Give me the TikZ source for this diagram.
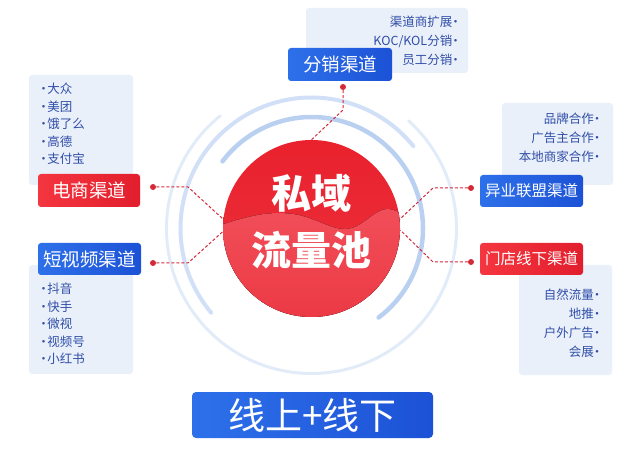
\documentclass[tikz,border=0pt]{standalone}
\usepackage{fontspec}
\setmainfont{Noto Sans CJK SC}

\definecolor{chanblue}{RGB}{46,112,234}
\definecolor{chanbluedk}{RGB}{28,82,214}
\definecolor{chanred}{RGB}{244,54,64}
\definecolor{chanreddk}{RGB}{226,30,44}
\definecolor{infofill}{RGB}{234,240,250}
\definecolor{infoink}{RGB}{48,78,168}
\definecolor{linkred}{RGB}{212,42,56}
\definecolor{ringA}{RGB}{186,208,241}
\definecolor{ringB}{RGB}{209,224,246}
\definecolor{ringC}{RGB}{226,236,249}
\definecolor{poolred}{RGB}{233,33,45}
\definecolor{poolwave}{RGB}{241,78,89}

\newcommand{\rdot}{\kern-3pt·}
\newcommand{\ldot}{·\kern-2.5pt}

\begin{document}
\begin{tikzpicture}[x=1pt, y=1pt, line width=0.5pt]
\tikzset{
  chbox/.style={rounded corners=3pt, text=white, inner sep=0pt, minimum width=103pt, minimum height=33pt, font=\fontsize{18.5}{20}\selectfont},
  chblue/.style={chbox, left color=chanblue, right color=chanbluedk},
  chred/.style={chbox, left color=chanred, right color=chanreddk},
  chlong/.style={font=\fontsize{15.5}{17}\selectfont},
  infobox/.style={fill=infofill, rounded corners=3pt, inner sep=0pt},
  infotxt/.style={text=infoink, inner sep=0pt},
  ring/.style={line cap=round},
  pool/.style={circle, inner sep=0pt, minimum size=177pt, top color=poolred, bottom color=poolred!92!white},
  pooltxt/.style={text=white, align=center, inner sep=0pt, font=\fontsize{40}{57}\selectfont\bfseries},
  mainbtn/.style={rounded corners=4pt, text=white, inner sep=0pt, minimum width=241pt, minimum height=46pt, left color=chanblue, right color=chanbluedk, font=\fontsize{37}{40}\selectfont},
  link/.style={draw=linkred, line width=1pt, dash pattern=on 3pt off 2pt},
  dot/.style={circle, fill=linkred, inner sep=0pt, minimum size=6pt}
}
\useasboundingbox (0,0) rectangle (640,461);

% rings round the pool
\coordinate (c0) at (311.5,232.5);
\draw[ring, draw=ringC, line width=3pt] (c0) ++(129:145pt) arc[start angle=129, end angle=408, radius=145pt];
\draw[ring, draw=ringB, line width=4pt] (c0) ++(39:131pt) arc[start angle=39, end angle=220, radius=131pt];
\draw[ring, draw=ringA, line width=4.5pt] (c0) ++(-53:111.5pt) arc[start angle=-53, end angle=143, radius=111.5pt];

% info boxes
\node[infobox, minimum width=162pt, minimum height=65pt] (iT) at (387,420.5) {};
\node[infobox, minimum width=104pt, minimum height=110pt] (iL1) at (81,331) {};
\node[infobox, minimum width=104pt, minimum height=109pt] (iL2) at (81,141.5) {};
\node[infobox, minimum width=111pt, minimum height=82pt] (iR1) at (557.5,317) {};
\node[infobox, minimum width=93pt, minimum height=110pt] (iR2) at (565.5,141) {};

\node[infotxt, align=right, anchor=north east, font=\fontsize{12.5}{19}\selectfont] (tT) at (462,445) {渠道商扩展\rdot\\KOC/KOL分销\rdot\\员工分销\rdot};
\node[infotxt, align=left, anchor=north west, font=\fontsize{12.5}{17.4}\selectfont] (tL1) at (37,378) {\ldot 大众\\\ldot 美团\\\ldot 饿了么\\\ldot 高德\\\ldot 支付宝};
\node[infotxt, align=left, anchor=north west, font=\fontsize{12.5}{17.5}\selectfont] (tL2) at (37,178) {\ldot 抖音\\\ldot 快手\\\ldot 微视\\\ldot 视频号\\\ldot 小红书};
\node[infotxt, align=right, anchor=north east, font=\fontsize{12.5}{19}\selectfont] (tR1) at (603.5,348) {品牌合作\rdot\\广告主合作\rdot\\本地商家合作\rdot};
\node[infotxt, align=right, anchor=north east, font=\fontsize{12.5}{19}\selectfont] (tR2) at (603.5,172) {自然流量\rdot\\地推\rdot\\户外广告\rdot\\会展\rdot};

% channel labels
\node[chblue, minimum width=104pt] (cT) at (340,396.5) {分销渠道};
\node[chred, minimum width=102pt] (cL1) at (89,270.5) {电商渠道};
\node[chblue, minimum height=32pt] (cL2) at (89.5,202) {短视频渠道};
\node[chblue, chlong, minimum height=32pt] (cR1) at (531.5,270) {异业联盟渠道};
\node[chred, chlong, minimum height=32pt] (cR2) at (531.5,202) {门店线下渠道};

% the pool
\node[pool] (pool) at (c0) {};
\begin{scope}
  \clip (c0) circle[radius=88.5pt];
  \fill[top color=poolwave, bottom color=poolred!90!white]
    (215,234) .. controls (250,246) and (270,250) .. (293,247)
    .. controls (315,244) and (330,231) .. (347,232)
    .. controls (362,233) and (375,252) .. (387,252)
    .. controls (395,252) and (402,247) .. (410,242) -- (410,130) -- (215,130) -- cycle;
\end{scope}
\node[pooltxt] (ptxt) at (311.5,239.5) {私域\\流量池};

\node[mainbtn] (mode) at (312.5,46) {线上+线下};

% dashed links
\node[dot] (dT) at (343,374) {};
\node[dot] (dL1) at (153,274) {};
\node[dot] (dL2) at (153,198) {};
\node[dot] (dR1) at (471,273) {};
\node[dot] (dR2) at (471,199) {};
\coordinate (bT) at (343,351);
\coordinate (bL1) at (188,274);
\coordinate (bL2) at (188,198);
\coordinate (bR1) at (433,273);
\coordinate (bR2) at (433,199);

\draw[link] (dT) -- (bT) -- (pool.90);
\draw[link] (dL1) -- (bL1) -- (pool.174);
\draw[link] (dL2) -- (bL2) -- (pool.182);
\draw[link] (dR1) -- (bR1) -- (pool.6);
\draw[link] (dR2) -- (bR2) -- (pool.-1);
\end{tikzpicture}
\end{document}
